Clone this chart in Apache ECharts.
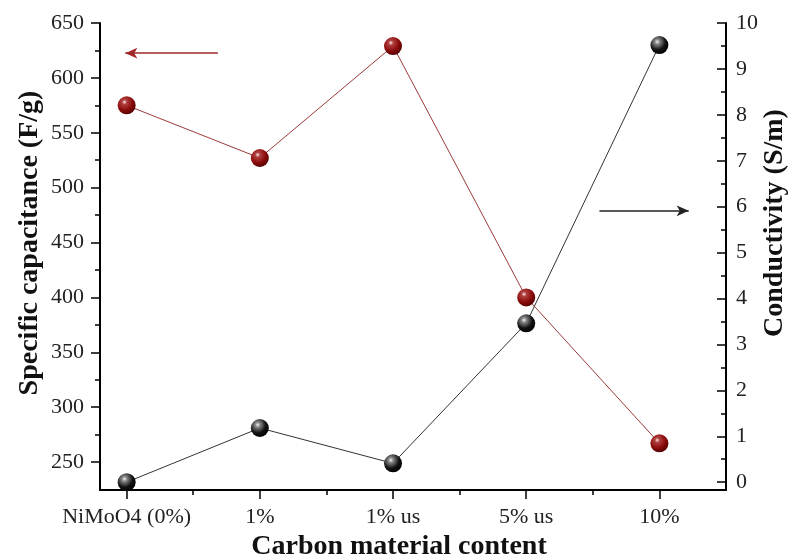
<!DOCTYPE html>
<html>
<head>
<meta charset="utf-8">
<script src="https://cdn.jsdelivr.net/npm/echarts@6/dist/echarts.min.js"></script>
<style>html,body{margin:0;padding:0;background:#fff}#c{width:790px;height:560px}</style>
</head>
<body>
<div id="c"></div>
<script>
const categories = ['NiMoO4 (0%)', '1%', '1% us', '5% us', '10%'];
const capacitance = [575, 527, 629, 400, 267];
const conductivity = [0.0, 1.18, 0.41, 3.46, 9.52];
const leftTicks = [250, 300, 350, 400, 450, 500, 550, 600, 650];
const leftMinor = [275, 325, 375, 425, 475, 525, 575, 625];
const rightTicks = [0, 1, 2, 3, 4, 5, 6, 7, 8, 9, 10];
const rightMinor = [0.5, 1.5, 2.5, 3.5, 4.5, 5.5, 6.5, 7.5, 8.5, 9.5];
const xTicks = [0, 1, 2, 3, 4];
const xMinor = [0.5, 1.5, 2.5, 3.5];

const FONT = '"Liberation Serif", "Times New Roman", serif';
const chart = echarts.init(document.getElementById('c'), null, {renderer: 'canvas'});

function sphere(base, mid, dark, hi) {
  return {type: 'radial', x: 0.38, y: 0.32, r: 0.75, colorStops: [
    {offset: 0, color: hi}, {offset: 0.18, color: mid}, {offset: 0.6, color: base}, {offset: 1, color: dark}]};
}

const LMIN = 224.5, LMAX = 650, RMIN = -0.17, RMAX = 10, XMIN = -0.2, XMAX = 4.5;
const lineStyle = {color: '#000', width: 2};

chart.setOption({
  animation: false,
  backgroundColor: '#fff',
  grid: {left: 100, right: 64, top: 23, bottom: 70, containLabel: false},
  xAxis: [
    {type: 'value', min: XMIN, max: XMAX, position: 'bottom',
     axisLine: {show: true, lineStyle: lineStyle, onZero: false},
     axisTick: {show: true, inside: false, length: 9, lineStyle: {width: 1.5, color: '#000'}, customValues: xTicks},
     axisLabel: {show: true, margin: 16, color: '#222', fontFamily: FONT, fontSize: 22, customValues: xTicks,
       formatter: v => categories[Math.round(v)] || ''},
     splitLine: {show: false}},
    {type: 'value', min: XMIN, max: XMAX, position: 'bottom',
     axisLine: {show: false, onZero: false},
     axisTick: {show: true, inside: false, length: 5, lineStyle: {width: 1.5, color: '#000'}, customValues: xMinor},
     axisLabel: {show: false}, splitLine: {show: false}}
  ],
  yAxis: [
    {type: 'value', min: LMIN, max: LMAX, position: 'left',
     axisLine: {show: true, lineStyle: lineStyle, onZero: false},
     axisTick: {show: true, inside: false, length: 9, lineStyle: {width: 1.5, color: '#000'}, customValues: leftTicks},
     axisLabel: {show: true, margin: 16, color: '#222', fontFamily: FONT, fontSize: 22, customValues: leftTicks},
     splitLine: {show: false}},
    {type: 'value', min: RMIN, max: RMAX, position: 'right',
     axisLine: {show: true, lineStyle: lineStyle, onZero: false},
     axisTick: {show: true, inside: true, length: 9, lineStyle: {width: 1.5, color: '#000'}, customValues: rightTicks},
     axisLabel: {show: true, margin: 10, color: '#222', fontFamily: FONT, fontSize: 22, customValues: rightTicks},
     splitLine: {show: false}},
    {type: 'value', min: LMIN, max: LMAX, position: 'left',
     axisLine: {show: false, onZero: false},
     axisTick: {show: true, inside: false, length: 5, lineStyle: {width: 1.5, color: '#000'}, customValues: leftMinor},
     axisLabel: {show: false}, splitLine: {show: false}},
    {type: 'value', min: RMIN, max: RMAX, position: 'right',
     axisLine: {show: false, onZero: false},
     axisTick: {show: true, inside: true, length: 5, lineStyle: {width: 1.5, color: '#000'}, customValues: rightMinor},
     axisLabel: {show: false}, splitLine: {show: false}}
  ],
  series: [
    {type: 'line', name: 'Specific capacitance', xAxisIndex: 0, yAxisIndex: 0,
     data: capacitance.map((v, i) => [i, v]),
     lineStyle: {color: '#9a3a3a', width: 1}, symbol: 'circle', symbolSize: 18,
     itemStyle: {color: sphere('#8a0a0a', '#b04040', '#4a0000', '#ffe8e8'), borderWidth: 0},
     z: 3,
     markLine: {silent: true, symbol: ['none', 'arrow'], symbolSize: [8, 12], label: {show: false},
       lineStyle: {color: '#a02828', width: 1.5, type: 'solid'},
       data: [[{coord: [0.685, 622.5]}, {coord: [-0.01, 622.5]}]]}},
    {type: 'line', name: 'Conductivity', xAxisIndex: 0, yAxisIndex: 1,
     data: conductivity.map((v, i) => [i, v]),
     lineStyle: {color: '#333', width: 1}, symbol: 'circle', symbolSize: 18,
     itemStyle: {color: sphere('#111', '#888', '#000', '#f4f4f4'), borderWidth: 0},
     z: 3,
     markLine: {silent: true, symbol: ['none', 'arrow'], symbolSize: [8, 12], label: {show: false},
       lineStyle: {color: '#222', width: 1.5, type: 'solid'},
       data: [[{coord: [3.55, 5.91]}, {coord: [4.22, 5.91]}]]}}
  ],
  graphic: [
    {type: 'text', x: 30, y: 243, rotation: Math.PI / 2,
     style: {text: 'Specific capacitance (F/g)', font: 'bold 28px ' + FONT, fill: '#111', align: 'center', verticalAlign: 'middle'}},
    {type: 'text', x: 775, y: 223, rotation: Math.PI / 2,
     style: {text: 'Conductivity (S/m)', font: 'bold 28px ' + FONT, fill: '#111', align: 'center', verticalAlign: 'middle'}},
    {type: 'text', x: 399, y: 547,
     style: {text: 'Carbon material content', font: 'bold 28px ' + FONT, fill: '#111', align: 'center', verticalAlign: 'middle'}}
  ]
});
</script>
</body>
</html>
